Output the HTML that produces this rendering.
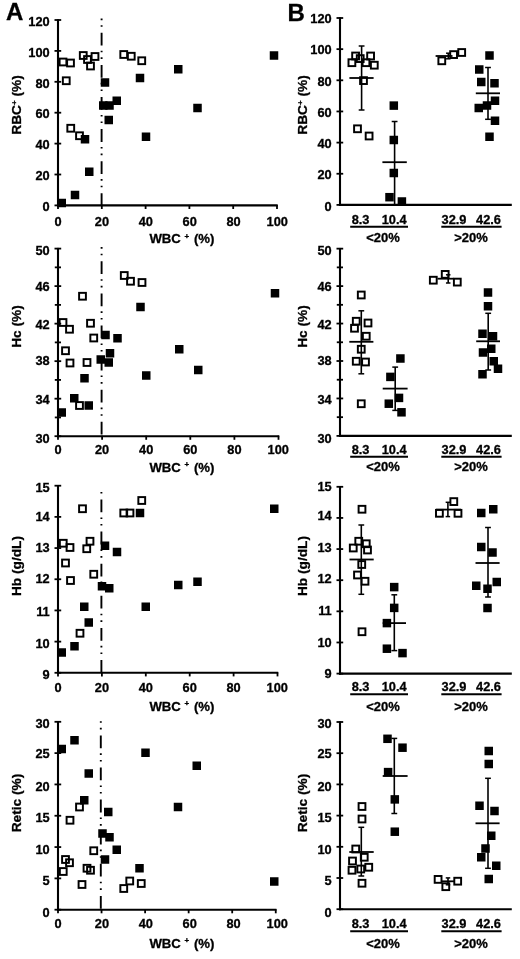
<!DOCTYPE html>
<html><head><meta charset="utf-8"><title>Figure</title>
<style>
html,body{margin:0;padding:0;background:#fff;}
svg{display:block;filter:grayscale(1) blur(0.3px);}
svg text{font-family:"Liberation Sans", sans-serif;font-weight:bold;fill:#000;stroke:#000;stroke-width:0.3px;}
</style></head>
<body>
<svg width="520" height="959" viewBox="0 0 520 959">
<rect width="520" height="959" fill="#fff"/>
<line x1="58.00" y1="19.30" x2="58.00" y2="206.45" stroke="#000" stroke-width="2.1"/>
<line x1="54.50" y1="20.00" x2="61.20" y2="20.00" stroke="#000" stroke-width="1.8"/>
<text x="49.70" y="25.70" font-size="12.8" text-anchor="end" >120</text>
<line x1="54.50" y1="50.90" x2="61.20" y2="50.90" stroke="#000" stroke-width="1.8"/>
<text x="49.70" y="56.60" font-size="12.8" text-anchor="end" >100</text>
<line x1="54.50" y1="81.80" x2="61.20" y2="81.80" stroke="#000" stroke-width="1.8"/>
<text x="49.70" y="87.50" font-size="12.8" text-anchor="end" >80</text>
<line x1="54.50" y1="112.70" x2="61.20" y2="112.70" stroke="#000" stroke-width="1.8"/>
<text x="49.70" y="118.40" font-size="12.8" text-anchor="end" >60</text>
<line x1="54.50" y1="143.60" x2="61.20" y2="143.60" stroke="#000" stroke-width="1.8"/>
<text x="49.70" y="149.30" font-size="12.8" text-anchor="end" >40</text>
<line x1="54.50" y1="174.50" x2="61.20" y2="174.50" stroke="#000" stroke-width="1.8"/>
<text x="49.70" y="180.20" font-size="12.8" text-anchor="end" >20</text>
<line x1="54.50" y1="205.40" x2="61.20" y2="205.40" stroke="#000" stroke-width="1.8"/>
<text x="49.70" y="211.10" font-size="12.8" text-anchor="end" >0</text>
<line x1="56.95" y1="205.40" x2="277.70" y2="205.40" stroke="#000" stroke-width="2.1"/>
<line x1="58.00" y1="204.90" x2="58.00" y2="209.00" stroke="#000" stroke-width="1.8"/>
<text x="58.00" y="226.40" font-size="12.8" text-anchor="middle" >0</text>
<line x1="101.80" y1="204.90" x2="101.80" y2="209.00" stroke="#000" stroke-width="1.8"/>
<text x="101.90" y="226.40" font-size="12.8" text-anchor="middle" >20</text>
<line x1="145.60" y1="204.90" x2="145.60" y2="209.00" stroke="#000" stroke-width="1.8"/>
<text x="145.80" y="226.40" font-size="12.8" text-anchor="middle" >40</text>
<line x1="189.40" y1="204.90" x2="189.40" y2="209.00" stroke="#000" stroke-width="1.8"/>
<text x="189.70" y="226.40" font-size="12.8" text-anchor="middle" >60</text>
<line x1="233.20" y1="204.90" x2="233.20" y2="209.00" stroke="#000" stroke-width="1.8"/>
<text x="233.60" y="226.40" font-size="12.8" text-anchor="middle" >80</text>
<line x1="277.00" y1="204.90" x2="277.00" y2="209.00" stroke="#000" stroke-width="1.8"/>
<text x="277.20" y="226.40" font-size="12.8" text-anchor="middle" >100</text>
<text x="181.90" y="242.70" font-size="13.2" text-anchor="middle" >WBC <tspan font-size="8" dy="-4.2">+</tspan><tspan dy="4.2" dx="1.0"> (%)</tspan></text>
<text transform="translate(21.40,105.00) rotate(-90)" font-size="13.7" text-anchor="middle">RBC<tspan font-size="8" dy="-4.2">+</tspan><tspan dy="4.2"> (%)</tspan></text>
<path d="M101.6 206.10 V18.50" stroke="#000" stroke-width="1.9" fill="none" stroke-dasharray="12.8 6 1.6 5 1.6 5.1"/>
<rect x="59.60" y="58.60" width="6.8" height="6.8" fill="none" stroke="#000" stroke-width="1.95"/>
<rect x="67.10" y="59.60" width="6.8" height="6.8" fill="none" stroke="#000" stroke-width="1.95"/>
<rect x="62.85" y="77.35" width="6.8" height="6.8" fill="none" stroke="#000" stroke-width="1.95"/>
<rect x="79.85" y="52.10" width="6.8" height="6.8" fill="none" stroke="#000" stroke-width="1.95"/>
<rect x="84.10" y="56.10" width="6.8" height="6.8" fill="none" stroke="#000" stroke-width="1.95"/>
<rect x="87.10" y="62.60" width="6.8" height="6.8" fill="none" stroke="#000" stroke-width="1.95"/>
<rect x="91.60" y="53.10" width="6.8" height="6.8" fill="none" stroke="#000" stroke-width="1.95"/>
<rect x="120.35" y="51.10" width="6.8" height="6.8" fill="none" stroke="#000" stroke-width="1.95"/>
<rect x="127.85" y="52.85" width="6.8" height="6.8" fill="none" stroke="#000" stroke-width="1.95"/>
<rect x="138.35" y="57.35" width="6.8" height="6.8" fill="none" stroke="#000" stroke-width="1.95"/>
<rect x="67.35" y="124.85" width="6.8" height="6.8" fill="none" stroke="#000" stroke-width="1.95"/>
<rect x="76.10" y="132.35" width="6.8" height="6.8" fill="none" stroke="#000" stroke-width="1.95"/>
<rect x="80.75" y="135.00" width="8.5" height="8.5" fill="#000"/>
<rect x="100.75" y="78.25" width="8.5" height="8.5" fill="#000"/>
<rect x="99.00" y="101.25" width="8.5" height="8.5" fill="#000"/>
<rect x="105.25" y="101.25" width="8.5" height="8.5" fill="#000"/>
<rect x="112.50" y="96.50" width="8.5" height="8.5" fill="#000"/>
<rect x="104.50" y="115.75" width="8.5" height="8.5" fill="#000"/>
<rect x="85.00" y="167.50" width="8.5" height="8.5" fill="#000"/>
<rect x="70.75" y="190.75" width="8.5" height="8.5" fill="#000"/>
<rect x="57.50" y="198.75" width="8.5" height="8.5" fill="#000"/>
<rect x="269.75" y="51.25" width="8.5" height="8.5" fill="#000"/>
<rect x="174.00" y="65.00" width="8.5" height="8.5" fill="#000"/>
<rect x="135.75" y="73.75" width="8.5" height="8.5" fill="#000"/>
<rect x="193.25" y="103.75" width="8.5" height="8.5" fill="#000"/>
<rect x="141.75" y="132.50" width="8.5" height="8.5" fill="#000"/>
<line x1="58.00" y1="247.90" x2="58.00" y2="437.25" stroke="#000" stroke-width="2.1"/>
<line x1="54.50" y1="248.60" x2="61.20" y2="248.60" stroke="#000" stroke-width="1.8"/>
<text x="49.70" y="255.10" font-size="12.8" text-anchor="end" >50</text>
<line x1="54.50" y1="286.12" x2="61.20" y2="286.12" stroke="#000" stroke-width="1.8"/>
<text x="49.70" y="291.10" font-size="12.8" text-anchor="end" >46</text>
<line x1="54.50" y1="323.64" x2="61.20" y2="323.64" stroke="#000" stroke-width="1.8"/>
<text x="49.70" y="328.60" font-size="12.8" text-anchor="end" >42</text>
<line x1="54.50" y1="361.16" x2="61.20" y2="361.16" stroke="#000" stroke-width="1.8"/>
<text x="49.70" y="364.50" font-size="12.8" text-anchor="end" >38</text>
<line x1="54.50" y1="398.68" x2="61.20" y2="398.68" stroke="#000" stroke-width="1.8"/>
<text x="49.70" y="404.10" font-size="12.8" text-anchor="end" >34</text>
<line x1="54.50" y1="436.20" x2="61.20" y2="436.20" stroke="#000" stroke-width="1.8"/>
<text x="49.70" y="442.70" font-size="12.8" text-anchor="end" >30</text>
<line x1="54.80" y1="267.36" x2="61.00" y2="267.36" stroke="#000" stroke-width="1.8"/>
<line x1="54.80" y1="304.88" x2="61.00" y2="304.88" stroke="#000" stroke-width="1.8"/>
<line x1="54.80" y1="342.40" x2="61.00" y2="342.40" stroke="#000" stroke-width="1.8"/>
<line x1="54.80" y1="379.92" x2="61.00" y2="379.92" stroke="#000" stroke-width="1.8"/>
<line x1="54.80" y1="417.44" x2="61.00" y2="417.44" stroke="#000" stroke-width="1.8"/>
<line x1="56.95" y1="436.20" x2="279.20" y2="436.20" stroke="#000" stroke-width="2.1"/>
<line x1="58.00" y1="435.70" x2="58.00" y2="439.80" stroke="#000" stroke-width="1.8"/>
<text x="58.00" y="453.70" font-size="12.8" text-anchor="middle" >0</text>
<line x1="102.10" y1="435.70" x2="102.10" y2="439.80" stroke="#000" stroke-width="1.8"/>
<text x="102.10" y="453.70" font-size="12.8" text-anchor="middle" >20</text>
<line x1="146.20" y1="435.70" x2="146.20" y2="439.80" stroke="#000" stroke-width="1.8"/>
<text x="146.20" y="453.70" font-size="12.8" text-anchor="middle" >40</text>
<line x1="190.30" y1="435.70" x2="190.30" y2="439.80" stroke="#000" stroke-width="1.8"/>
<text x="190.30" y="453.70" font-size="12.8" text-anchor="middle" >60</text>
<line x1="234.40" y1="435.70" x2="234.40" y2="439.80" stroke="#000" stroke-width="1.8"/>
<text x="234.40" y="453.70" font-size="12.8" text-anchor="middle" >80</text>
<line x1="278.50" y1="435.70" x2="278.50" y2="439.80" stroke="#000" stroke-width="1.8"/>
<text x="278.20" y="453.70" font-size="12.8" text-anchor="middle" >100</text>
<text x="181.90" y="471.60" font-size="13.2" text-anchor="middle" >WBC <tspan font-size="8" dy="-4.2">+</tspan><tspan dy="4.2" dx="1.0"> (%)</tspan></text>
<text transform="translate(21.40,326.50) rotate(-90)" font-size="13.7" text-anchor="middle">Hc (%)</text>
<path d="M101.6 434.60 V247.10" stroke="#000" stroke-width="1.9" fill="none" stroke-dasharray="12.8 6 1.6 5 1.6 5.1"/>
<rect x="120.85" y="272.10" width="6.8" height="6.8" fill="none" stroke="#000" stroke-width="1.95"/>
<rect x="127.10" y="277.85" width="6.8" height="6.8" fill="none" stroke="#000" stroke-width="1.95"/>
<rect x="138.60" y="279.10" width="6.8" height="6.8" fill="none" stroke="#000" stroke-width="1.95"/>
<rect x="79.10" y="292.85" width="6.8" height="6.8" fill="none" stroke="#000" stroke-width="1.95"/>
<rect x="59.60" y="319.10" width="6.8" height="6.8" fill="none" stroke="#000" stroke-width="1.95"/>
<rect x="66.10" y="325.85" width="6.8" height="6.8" fill="none" stroke="#000" stroke-width="1.95"/>
<rect x="87.10" y="319.85" width="6.8" height="6.8" fill="none" stroke="#000" stroke-width="1.95"/>
<rect x="90.35" y="334.60" width="6.8" height="6.8" fill="none" stroke="#000" stroke-width="1.95"/>
<rect x="62.10" y="347.35" width="6.8" height="6.8" fill="none" stroke="#000" stroke-width="1.95"/>
<rect x="66.60" y="359.60" width="6.8" height="6.8" fill="none" stroke="#000" stroke-width="1.95"/>
<rect x="83.60" y="359.10" width="6.8" height="6.8" fill="none" stroke="#000" stroke-width="1.95"/>
<rect x="76.10" y="402.10" width="6.8" height="6.8" fill="none" stroke="#000" stroke-width="1.95"/>
<rect x="101.25" y="330.75" width="8.5" height="8.5" fill="#000"/>
<rect x="113.25" y="334.00" width="8.5" height="8.5" fill="#000"/>
<rect x="105.75" y="349.00" width="8.5" height="8.5" fill="#000"/>
<rect x="96.50" y="355.25" width="8.5" height="8.5" fill="#000"/>
<rect x="104.50" y="358.25" width="8.5" height="8.5" fill="#000"/>
<rect x="80.25" y="374.00" width="8.5" height="8.5" fill="#000"/>
<rect x="70.00" y="394.00" width="8.5" height="8.5" fill="#000"/>
<rect x="84.50" y="401.25" width="8.5" height="8.5" fill="#000"/>
<rect x="57.50" y="408.25" width="8.5" height="8.5" fill="#000"/>
<rect x="136.25" y="302.75" width="8.5" height="8.5" fill="#000"/>
<rect x="175.00" y="345.00" width="8.5" height="8.5" fill="#000"/>
<rect x="194.00" y="365.75" width="8.5" height="8.5" fill="#000"/>
<rect x="142.00" y="371.25" width="8.5" height="8.5" fill="#000"/>
<rect x="270.75" y="289.00" width="8.5" height="8.5" fill="#000"/>
<line x1="58.00" y1="485.00" x2="58.00" y2="673.85" stroke="#000" stroke-width="2.1"/>
<line x1="54.50" y1="485.70" x2="61.20" y2="485.70" stroke="#000" stroke-width="1.8"/>
<text x="49.70" y="491.70" font-size="12.8" text-anchor="end" >15</text>
<line x1="54.50" y1="516.88" x2="61.20" y2="516.88" stroke="#000" stroke-width="1.8"/>
<text x="49.70" y="521.00" font-size="12.8" text-anchor="end" >14</text>
<line x1="54.50" y1="548.07" x2="61.20" y2="548.07" stroke="#000" stroke-width="1.8"/>
<text x="49.70" y="552.30" font-size="12.8" text-anchor="end" >13</text>
<line x1="54.50" y1="579.25" x2="61.20" y2="579.25" stroke="#000" stroke-width="1.8"/>
<text x="49.70" y="583.20" font-size="12.8" text-anchor="end" >12</text>
<line x1="54.50" y1="610.43" x2="61.20" y2="610.43" stroke="#000" stroke-width="1.8"/>
<text x="49.70" y="615.70" font-size="12.8" text-anchor="end" >11</text>
<line x1="54.50" y1="641.62" x2="61.20" y2="641.62" stroke="#000" stroke-width="1.8"/>
<text x="49.70" y="647.70" font-size="12.8" text-anchor="end" >10</text>
<line x1="54.50" y1="672.80" x2="61.20" y2="672.80" stroke="#000" stroke-width="1.8"/>
<text x="49.70" y="679.10" font-size="12.8" text-anchor="end" >9</text>
<line x1="56.95" y1="672.80" x2="278.20" y2="672.80" stroke="#000" stroke-width="2.1"/>
<line x1="58.00" y1="672.30" x2="58.00" y2="676.40" stroke="#000" stroke-width="1.8"/>
<text x="58.00" y="691.70" font-size="12.8" text-anchor="middle" >0</text>
<line x1="101.90" y1="672.30" x2="101.90" y2="676.40" stroke="#000" stroke-width="1.8"/>
<text x="101.90" y="691.70" font-size="12.8" text-anchor="middle" >20</text>
<line x1="145.80" y1="672.30" x2="145.80" y2="676.40" stroke="#000" stroke-width="1.8"/>
<text x="145.80" y="691.70" font-size="12.8" text-anchor="middle" >40</text>
<line x1="189.70" y1="672.30" x2="189.70" y2="676.40" stroke="#000" stroke-width="1.8"/>
<text x="189.70" y="691.70" font-size="12.8" text-anchor="middle" >60</text>
<line x1="233.60" y1="672.30" x2="233.60" y2="676.40" stroke="#000" stroke-width="1.8"/>
<text x="233.60" y="691.70" font-size="12.8" text-anchor="middle" >80</text>
<line x1="277.50" y1="672.30" x2="277.50" y2="676.40" stroke="#000" stroke-width="1.8"/>
<text x="277.20" y="691.70" font-size="12.8" text-anchor="middle" >100</text>
<text x="181.90" y="710.60" font-size="13.2" text-anchor="middle" >WBC <tspan font-size="8" dy="-4.2">+</tspan><tspan dy="4.2" dx="1.0"> (%)</tspan></text>
<text transform="translate(21.40,566.00) rotate(-90)" font-size="13.7" text-anchor="middle">Hb (g/dL)</text>
<path d="M101.4 672.80 V490.50" stroke="#000" stroke-width="1.9" fill="none" stroke-dasharray="12.8 6 1.6 5 1.6 5.1"/>
<rect x="79.10" y="505.35" width="6.8" height="6.8" fill="none" stroke="#000" stroke-width="1.95"/>
<rect x="120.35" y="509.60" width="6.8" height="6.8" fill="none" stroke="#000" stroke-width="1.95"/>
<rect x="126.60" y="509.60" width="6.8" height="6.8" fill="none" stroke="#000" stroke-width="1.95"/>
<rect x="138.35" y="497.10" width="6.8" height="6.8" fill="none" stroke="#000" stroke-width="1.95"/>
<rect x="59.85" y="539.85" width="6.8" height="6.8" fill="none" stroke="#000" stroke-width="1.95"/>
<rect x="66.60" y="544.10" width="6.8" height="6.8" fill="none" stroke="#000" stroke-width="1.95"/>
<rect x="86.60" y="537.85" width="6.8" height="6.8" fill="none" stroke="#000" stroke-width="1.95"/>
<rect x="83.35" y="545.35" width="6.8" height="6.8" fill="none" stroke="#000" stroke-width="1.95"/>
<rect x="62.10" y="559.60" width="6.8" height="6.8" fill="none" stroke="#000" stroke-width="1.95"/>
<rect x="90.35" y="570.85" width="6.8" height="6.8" fill="none" stroke="#000" stroke-width="1.95"/>
<rect x="67.10" y="577.10" width="6.8" height="6.8" fill="none" stroke="#000" stroke-width="1.95"/>
<rect x="76.60" y="629.85" width="6.8" height="6.8" fill="none" stroke="#000" stroke-width="1.95"/>
<rect x="100.75" y="541.50" width="8.5" height="8.5" fill="#000"/>
<rect x="112.75" y="547.75" width="8.5" height="8.5" fill="#000"/>
<rect x="97.75" y="582.00" width="8.5" height="8.5" fill="#000"/>
<rect x="105.00" y="584.00" width="8.5" height="8.5" fill="#000"/>
<rect x="80.00" y="602.50" width="8.5" height="8.5" fill="#000"/>
<rect x="84.50" y="618.25" width="8.5" height="8.5" fill="#000"/>
<rect x="70.25" y="642.00" width="8.5" height="8.5" fill="#000"/>
<rect x="57.50" y="648.25" width="8.5" height="8.5" fill="#000"/>
<rect x="135.75" y="508.75" width="8.5" height="8.5" fill="#000"/>
<rect x="174.00" y="580.75" width="8.5" height="8.5" fill="#000"/>
<rect x="193.25" y="577.50" width="8.5" height="8.5" fill="#000"/>
<rect x="141.50" y="602.50" width="8.5" height="8.5" fill="#000"/>
<rect x="270.00" y="504.50" width="8.5" height="8.5" fill="#000"/>
<line x1="58.00" y1="721.10" x2="58.00" y2="910.75" stroke="#000" stroke-width="2.1"/>
<line x1="54.50" y1="721.80" x2="61.20" y2="721.80" stroke="#000" stroke-width="1.8"/>
<text x="49.70" y="727.90" font-size="12.8" text-anchor="end" >30</text>
<line x1="54.50" y1="753.12" x2="61.20" y2="753.12" stroke="#000" stroke-width="1.8"/>
<text x="49.70" y="758.00" font-size="12.8" text-anchor="end" >25</text>
<line x1="54.50" y1="784.43" x2="61.20" y2="784.43" stroke="#000" stroke-width="1.8"/>
<text x="49.70" y="790.60" font-size="12.8" text-anchor="end" >20</text>
<line x1="54.50" y1="815.75" x2="61.20" y2="815.75" stroke="#000" stroke-width="1.8"/>
<text x="49.70" y="822.00" font-size="12.8" text-anchor="end" >15</text>
<line x1="54.50" y1="847.07" x2="61.20" y2="847.07" stroke="#000" stroke-width="1.8"/>
<text x="49.70" y="853.70" font-size="12.8" text-anchor="end" >10</text>
<line x1="54.50" y1="878.38" x2="61.20" y2="878.38" stroke="#000" stroke-width="1.8"/>
<text x="49.70" y="884.70" font-size="12.8" text-anchor="end" >5</text>
<line x1="54.50" y1="909.70" x2="61.20" y2="909.70" stroke="#000" stroke-width="1.8"/>
<text x="49.70" y="916.50" font-size="12.8" text-anchor="end" >0</text>
<line x1="56.95" y1="909.70" x2="276.45" y2="909.70" stroke="#000" stroke-width="2.1"/>
<line x1="58.00" y1="909.20" x2="58.00" y2="913.30" stroke="#000" stroke-width="1.8"/>
<text x="58.00" y="928.40" font-size="12.8" text-anchor="middle" >0</text>
<line x1="101.55" y1="909.20" x2="101.55" y2="913.30" stroke="#000" stroke-width="1.8"/>
<text x="101.90" y="928.40" font-size="12.8" text-anchor="middle" >20</text>
<line x1="145.10" y1="909.20" x2="145.10" y2="913.30" stroke="#000" stroke-width="1.8"/>
<text x="145.80" y="928.40" font-size="12.8" text-anchor="middle" >40</text>
<line x1="188.65" y1="909.20" x2="188.65" y2="913.30" stroke="#000" stroke-width="1.8"/>
<text x="189.70" y="928.40" font-size="12.8" text-anchor="middle" >60</text>
<line x1="232.20" y1="909.20" x2="232.20" y2="913.30" stroke="#000" stroke-width="1.8"/>
<text x="233.60" y="928.40" font-size="12.8" text-anchor="middle" >80</text>
<line x1="275.75" y1="909.20" x2="275.75" y2="913.30" stroke="#000" stroke-width="1.8"/>
<text x="277.20" y="928.40" font-size="12.8" text-anchor="middle" >100</text>
<text x="181.90" y="947.60" font-size="13.2" text-anchor="middle" >WBC <tspan font-size="8" dy="-4.2">+</tspan><tspan dy="4.2" dx="1.0"> (%)</tspan></text>
<text transform="translate(21.40,803.00) rotate(-90)" font-size="13.7" text-anchor="middle">Retic (%)</text>
<path d="M100.8 908.70 V720.30" stroke="#000" stroke-width="1.9" fill="none" stroke-dasharray="12.8 6 1.6 5 1.6 5.1"/>
<rect x="76.10" y="803.60" width="6.8" height="6.8" fill="none" stroke="#000" stroke-width="1.95"/>
<rect x="66.60" y="816.85" width="6.8" height="6.8" fill="none" stroke="#000" stroke-width="1.95"/>
<rect x="90.35" y="847.35" width="6.8" height="6.8" fill="none" stroke="#000" stroke-width="1.95"/>
<rect x="62.10" y="856.10" width="6.8" height="6.8" fill="none" stroke="#000" stroke-width="1.95"/>
<rect x="66.10" y="859.35" width="6.8" height="6.8" fill="none" stroke="#000" stroke-width="1.95"/>
<rect x="59.85" y="868.10" width="6.8" height="6.8" fill="none" stroke="#000" stroke-width="1.95"/>
<rect x="83.60" y="864.85" width="6.8" height="6.8" fill="none" stroke="#000" stroke-width="1.95"/>
<rect x="87.10" y="866.85" width="6.8" height="6.8" fill="none" stroke="#000" stroke-width="1.95"/>
<rect x="78.60" y="881.10" width="6.8" height="6.8" fill="none" stroke="#000" stroke-width="1.95"/>
<rect x="120.35" y="885.10" width="6.8" height="6.8" fill="none" stroke="#000" stroke-width="1.95"/>
<rect x="126.35" y="877.60" width="6.8" height="6.8" fill="none" stroke="#000" stroke-width="1.95"/>
<rect x="137.85" y="880.10" width="6.8" height="6.8" fill="none" stroke="#000" stroke-width="1.95"/>
<rect x="57.50" y="744.75" width="8.5" height="8.5" fill="#000"/>
<rect x="70.25" y="736.00" width="8.5" height="8.5" fill="#000"/>
<rect x="84.50" y="769.25" width="8.5" height="8.5" fill="#000"/>
<rect x="80.00" y="796.00" width="8.5" height="8.5" fill="#000"/>
<rect x="104.00" y="807.75" width="8.5" height="8.5" fill="#000"/>
<rect x="98.25" y="829.25" width="8.5" height="8.5" fill="#000"/>
<rect x="105.25" y="833.00" width="8.5" height="8.5" fill="#000"/>
<rect x="112.50" y="845.50" width="8.5" height="8.5" fill="#000"/>
<rect x="100.75" y="855.25" width="8.5" height="8.5" fill="#000"/>
<rect x="141.25" y="748.50" width="8.5" height="8.5" fill="#000"/>
<rect x="192.50" y="761.50" width="8.5" height="8.5" fill="#000"/>
<rect x="173.75" y="802.75" width="8.5" height="8.5" fill="#000"/>
<rect x="135.25" y="864.00" width="8.5" height="8.5" fill="#000"/>
<rect x="270.00" y="877.25" width="8.5" height="8.5" fill="#000"/>
<line x1="340.00" y1="17.30" x2="340.00" y2="205.95" stroke="#000" stroke-width="2.1"/>
<line x1="336.50" y1="18.00" x2="343.20" y2="18.00" stroke="#000" stroke-width="1.8"/>
<text x="331.70" y="23.20" font-size="12.8" text-anchor="end" >120</text>
<line x1="336.50" y1="49.15" x2="343.20" y2="49.15" stroke="#000" stroke-width="1.8"/>
<text x="331.70" y="54.40" font-size="12.8" text-anchor="end" >100</text>
<line x1="336.50" y1="80.30" x2="343.20" y2="80.30" stroke="#000" stroke-width="1.8"/>
<text x="331.70" y="85.60" font-size="12.8" text-anchor="end" >80</text>
<line x1="336.50" y1="111.45" x2="343.20" y2="111.45" stroke="#000" stroke-width="1.8"/>
<text x="331.70" y="116.90" font-size="12.8" text-anchor="end" >60</text>
<line x1="336.50" y1="142.60" x2="343.20" y2="142.60" stroke="#000" stroke-width="1.8"/>
<text x="331.70" y="148.10" font-size="12.8" text-anchor="end" >40</text>
<line x1="336.50" y1="173.75" x2="343.20" y2="173.75" stroke="#000" stroke-width="1.8"/>
<text x="331.70" y="179.30" font-size="12.8" text-anchor="end" >20</text>
<line x1="336.50" y1="204.90" x2="343.20" y2="204.90" stroke="#000" stroke-width="1.8"/>
<text x="331.70" y="210.50" font-size="12.8" text-anchor="end" >0</text>
<line x1="338.95" y1="204.90" x2="511.80" y2="204.90" stroke="#000" stroke-width="2.1"/>
<text transform="translate(306.90,105.00) rotate(-90)" font-size="13.7" text-anchor="middle">RBC<tspan font-size="8" dy="-4.2">+</tspan><tspan dy="4.2"> (%)</tspan></text>
<text x="360.60" y="223.70" font-size="12.8" text-anchor="middle" >8.3</text>
<text x="394.20" y="223.70" font-size="12.8" text-anchor="middle" >10.4</text>
<text x="454.00" y="223.70" font-size="12.8" text-anchor="middle" >32.9</text>
<text x="488.50" y="223.70" font-size="12.8" text-anchor="middle" >42.6</text>
<line x1="350.20" y1="226.80" x2="408.00" y2="226.80" stroke="#000" stroke-width="1.9"/>
<line x1="441.30" y1="226.80" x2="501.60" y2="226.80" stroke="#000" stroke-width="1.9"/>
<text x="383.00" y="242.20" font-size="13" text-anchor="middle" >&lt;20%</text>
<text x="471.00" y="242.20" font-size="13" text-anchor="middle" >&gt;20%</text>
<rect x="348.50" y="59.30" width="6.8" height="6.8" fill="none" stroke="#000" stroke-width="1.95"/>
<rect x="352.20" y="52.60" width="6.8" height="6.8" fill="none" stroke="#000" stroke-width="1.95"/>
<rect x="356.80" y="55.20" width="6.8" height="6.8" fill="none" stroke="#000" stroke-width="1.95"/>
<rect x="362.60" y="59.30" width="6.8" height="6.8" fill="none" stroke="#000" stroke-width="1.95"/>
<rect x="367.20" y="52.60" width="6.8" height="6.8" fill="none" stroke="#000" stroke-width="1.95"/>
<rect x="370.90" y="61.80" width="6.8" height="6.8" fill="none" stroke="#000" stroke-width="1.95"/>
<rect x="360.10" y="77.20" width="6.8" height="6.8" fill="none" stroke="#000" stroke-width="1.95"/>
<rect x="354.10" y="125.40" width="6.8" height="6.8" fill="none" stroke="#000" stroke-width="1.95"/>
<rect x="365.70" y="132.60" width="6.8" height="6.8" fill="none" stroke="#000" stroke-width="1.95"/>
<rect x="438.40" y="57.40" width="6.8" height="6.8" fill="none" stroke="#000" stroke-width="1.95"/>
<rect x="450.20" y="51.20" width="6.8" height="6.8" fill="none" stroke="#000" stroke-width="1.95"/>
<rect x="458.30" y="49.10" width="6.8" height="6.8" fill="none" stroke="#000" stroke-width="1.95"/>
<rect x="389.55" y="101.35" width="8.5" height="8.5" fill="#000"/>
<rect x="389.55" y="135.75" width="8.5" height="8.5" fill="#000"/>
<rect x="389.55" y="168.75" width="8.5" height="8.5" fill="#000"/>
<rect x="385.25" y="192.95" width="8.5" height="8.5" fill="#000"/>
<rect x="397.65" y="197.25" width="8.5" height="8.5" fill="#000"/>
<rect x="485.25" y="51.25" width="8.5" height="8.5" fill="#000"/>
<rect x="475.00" y="65.25" width="8.5" height="8.5" fill="#000"/>
<rect x="477.00" y="77.75" width="8.5" height="8.5" fill="#000"/>
<rect x="490.25" y="79.00" width="8.5" height="8.5" fill="#000"/>
<rect x="490.75" y="96.50" width="8.5" height="8.5" fill="#000"/>
<rect x="474.50" y="103.75" width="8.5" height="8.5" fill="#000"/>
<rect x="482.75" y="101.25" width="8.5" height="8.5" fill="#000"/>
<rect x="490.75" y="116.50" width="8.5" height="8.5" fill="#000"/>
<rect x="485.25" y="132.50" width="8.5" height="8.5" fill="#000"/>
<line x1="361.60" y1="46.00" x2="361.60" y2="110.00" stroke="#000" stroke-width="1.6"/>
<line x1="358.70" y1="46.00" x2="364.50" y2="46.00" stroke="#000" stroke-width="1.5"/>
<line x1="358.70" y1="110.00" x2="364.50" y2="110.00" stroke="#000" stroke-width="1.5"/>
<line x1="349.40" y1="78.00" x2="373.60" y2="78.00" stroke="#000" stroke-width="1.8"/>
<line x1="394.60" y1="121.50" x2="394.60" y2="204.90" stroke="#000" stroke-width="1.6"/>
<line x1="391.70" y1="121.50" x2="397.50" y2="121.50" stroke="#000" stroke-width="1.5"/>
<line x1="382.40" y1="162.20" x2="406.80" y2="162.20" stroke="#000" stroke-width="1.8"/>
<line x1="448.30" y1="53.20" x2="448.30" y2="58.80" stroke="#000" stroke-width="1.6"/>
<line x1="446.05" y1="53.20" x2="450.55" y2="53.20" stroke="#000" stroke-width="1.5"/>
<line x1="446.05" y1="58.80" x2="450.55" y2="58.80" stroke="#000" stroke-width="1.5"/>
<line x1="435.60" y1="56.00" x2="452.50" y2="56.00" stroke="#000" stroke-width="1.8"/>
<line x1="488.00" y1="67.50" x2="488.00" y2="119.30" stroke="#000" stroke-width="1.6"/>
<line x1="485.10" y1="67.50" x2="490.90" y2="67.50" stroke="#000" stroke-width="1.5"/>
<line x1="485.10" y1="119.30" x2="490.90" y2="119.30" stroke="#000" stroke-width="1.5"/>
<line x1="475.80" y1="93.30" x2="500.00" y2="93.30" stroke="#000" stroke-width="1.8"/>
<line x1="340.00" y1="247.95" x2="340.00" y2="436.95" stroke="#000" stroke-width="2.1"/>
<line x1="336.50" y1="248.65" x2="343.20" y2="248.65" stroke="#000" stroke-width="1.8"/>
<text x="331.70" y="255.10" font-size="12.8" text-anchor="end" >50</text>
<line x1="336.50" y1="286.10" x2="343.20" y2="286.10" stroke="#000" stroke-width="1.8"/>
<text x="331.70" y="291.10" font-size="12.8" text-anchor="end" >46</text>
<line x1="336.50" y1="323.55" x2="343.20" y2="323.55" stroke="#000" stroke-width="1.8"/>
<text x="331.70" y="328.70" font-size="12.8" text-anchor="end" >42</text>
<line x1="336.50" y1="361.00" x2="343.20" y2="361.00" stroke="#000" stroke-width="1.8"/>
<text x="331.70" y="364.50" font-size="12.8" text-anchor="end" >38</text>
<line x1="336.50" y1="398.45" x2="343.20" y2="398.45" stroke="#000" stroke-width="1.8"/>
<text x="331.70" y="404.10" font-size="12.8" text-anchor="end" >34</text>
<line x1="336.50" y1="435.90" x2="343.20" y2="435.90" stroke="#000" stroke-width="1.8"/>
<text x="331.70" y="442.70" font-size="12.8" text-anchor="end" >30</text>
<line x1="336.80" y1="267.38" x2="343.00" y2="267.38" stroke="#000" stroke-width="1.8"/>
<line x1="336.80" y1="304.82" x2="343.00" y2="304.82" stroke="#000" stroke-width="1.8"/>
<line x1="336.80" y1="342.27" x2="343.00" y2="342.27" stroke="#000" stroke-width="1.8"/>
<line x1="336.80" y1="379.73" x2="343.00" y2="379.73" stroke="#000" stroke-width="1.8"/>
<line x1="336.80" y1="417.17" x2="343.00" y2="417.17" stroke="#000" stroke-width="1.8"/>
<line x1="338.95" y1="435.90" x2="511.80" y2="435.90" stroke="#000" stroke-width="2.1"/>
<text transform="translate(306.90,326.50) rotate(-90)" font-size="13.7" text-anchor="middle">Hc (%)</text>
<text x="360.60" y="454.10" font-size="12.8" text-anchor="middle" >8.3</text>
<text x="394.20" y="454.10" font-size="12.8" text-anchor="middle" >10.4</text>
<text x="454.00" y="454.10" font-size="12.8" text-anchor="middle" >32.9</text>
<text x="488.50" y="454.10" font-size="12.8" text-anchor="middle" >42.6</text>
<line x1="350.20" y1="456.70" x2="408.00" y2="456.70" stroke="#000" stroke-width="1.9"/>
<line x1="441.30" y1="456.70" x2="501.60" y2="456.70" stroke="#000" stroke-width="1.9"/>
<text x="383.00" y="470.60" font-size="13" text-anchor="middle" >&lt;20%</text>
<text x="471.00" y="470.60" font-size="13" text-anchor="middle" >&gt;20%</text>
<rect x="357.85" y="291.60" width="6.8" height="6.8" fill="none" stroke="#000" stroke-width="1.95"/>
<rect x="352.85" y="317.85" width="6.8" height="6.8" fill="none" stroke="#000" stroke-width="1.95"/>
<rect x="364.60" y="319.60" width="6.8" height="6.8" fill="none" stroke="#000" stroke-width="1.95"/>
<rect x="351.10" y="324.85" width="6.8" height="6.8" fill="none" stroke="#000" stroke-width="1.95"/>
<rect x="362.85" y="332.85" width="6.8" height="6.8" fill="none" stroke="#000" stroke-width="1.95"/>
<rect x="357.85" y="345.85" width="6.8" height="6.8" fill="none" stroke="#000" stroke-width="1.95"/>
<rect x="352.85" y="357.85" width="6.8" height="6.8" fill="none" stroke="#000" stroke-width="1.95"/>
<rect x="362.10" y="358.60" width="6.8" height="6.8" fill="none" stroke="#000" stroke-width="1.95"/>
<rect x="357.85" y="400.35" width="6.8" height="6.8" fill="none" stroke="#000" stroke-width="1.95"/>
<rect x="429.90" y="276.80" width="6.8" height="6.8" fill="none" stroke="#000" stroke-width="1.95"/>
<rect x="441.80" y="271.00" width="6.8" height="6.8" fill="none" stroke="#000" stroke-width="1.95"/>
<rect x="453.90" y="278.70" width="6.8" height="6.8" fill="none" stroke="#000" stroke-width="1.95"/>
<rect x="396.15" y="354.25" width="8.5" height="8.5" fill="#000"/>
<rect x="386.15" y="372.65" width="8.5" height="8.5" fill="#000"/>
<rect x="394.75" y="393.65" width="8.5" height="8.5" fill="#000"/>
<rect x="384.55" y="399.45" width="8.5" height="8.5" fill="#000"/>
<rect x="397.25" y="408.05" width="8.5" height="8.5" fill="#000"/>
<rect x="483.75" y="288.25" width="8.5" height="8.5" fill="#000"/>
<rect x="483.75" y="302.00" width="8.5" height="8.5" fill="#000"/>
<rect x="478.25" y="329.50" width="8.5" height="8.5" fill="#000"/>
<rect x="488.75" y="332.00" width="8.5" height="8.5" fill="#000"/>
<rect x="487.00" y="344.50" width="8.5" height="8.5" fill="#000"/>
<rect x="478.75" y="348.25" width="8.5" height="8.5" fill="#000"/>
<rect x="489.50" y="357.00" width="8.5" height="8.5" fill="#000"/>
<rect x="493.75" y="364.50" width="8.5" height="8.5" fill="#000"/>
<rect x="478.25" y="370.00" width="8.5" height="8.5" fill="#000"/>
<line x1="361.30" y1="310.80" x2="361.30" y2="373.80" stroke="#000" stroke-width="1.6"/>
<line x1="358.40" y1="310.80" x2="364.20" y2="310.80" stroke="#000" stroke-width="1.5"/>
<line x1="358.40" y1="373.80" x2="364.20" y2="373.80" stroke="#000" stroke-width="1.5"/>
<line x1="349.30" y1="341.80" x2="373.40" y2="341.80" stroke="#000" stroke-width="1.8"/>
<line x1="395.20" y1="367.10" x2="395.20" y2="410.40" stroke="#000" stroke-width="1.6"/>
<line x1="392.30" y1="367.10" x2="398.10" y2="367.10" stroke="#000" stroke-width="1.5"/>
<line x1="392.30" y1="410.40" x2="398.10" y2="410.40" stroke="#000" stroke-width="1.5"/>
<line x1="382.70" y1="388.60" x2="407.60" y2="388.60" stroke="#000" stroke-width="1.8"/>
<line x1="448.20" y1="274.80" x2="448.20" y2="283.00" stroke="#000" stroke-width="1.6"/>
<line x1="445.95" y1="274.80" x2="450.45" y2="274.80" stroke="#000" stroke-width="1.5"/>
<line x1="445.95" y1="283.00" x2="450.45" y2="283.00" stroke="#000" stroke-width="1.5"/>
<line x1="437.50" y1="278.70" x2="453.50" y2="278.70" stroke="#000" stroke-width="1.8"/>
<line x1="488.20" y1="313.30" x2="488.20" y2="370.00" stroke="#000" stroke-width="1.6"/>
<line x1="485.30" y1="313.30" x2="491.10" y2="313.30" stroke="#000" stroke-width="1.5"/>
<line x1="485.30" y1="370.00" x2="491.10" y2="370.00" stroke="#000" stroke-width="1.5"/>
<line x1="476.20" y1="341.30" x2="500.00" y2="341.30" stroke="#000" stroke-width="1.8"/>
<line x1="340.00" y1="486.10" x2="340.00" y2="674.65" stroke="#000" stroke-width="2.1"/>
<line x1="336.50" y1="486.80" x2="343.20" y2="486.80" stroke="#000" stroke-width="1.8"/>
<text x="331.70" y="490.80" font-size="12.8" text-anchor="end" >15</text>
<line x1="336.50" y1="517.93" x2="343.20" y2="517.93" stroke="#000" stroke-width="1.8"/>
<text x="331.70" y="520.20" font-size="12.8" text-anchor="end" >14</text>
<line x1="336.50" y1="549.07" x2="343.20" y2="549.07" stroke="#000" stroke-width="1.8"/>
<text x="331.70" y="551.60" font-size="12.8" text-anchor="end" >13</text>
<line x1="336.50" y1="580.20" x2="343.20" y2="580.20" stroke="#000" stroke-width="1.8"/>
<text x="331.70" y="582.70" font-size="12.8" text-anchor="end" >12</text>
<line x1="336.50" y1="611.33" x2="343.20" y2="611.33" stroke="#000" stroke-width="1.8"/>
<text x="331.70" y="615.30" font-size="12.8" text-anchor="end" >11</text>
<line x1="336.50" y1="642.47" x2="343.20" y2="642.47" stroke="#000" stroke-width="1.8"/>
<text x="331.70" y="646.90" font-size="12.8" text-anchor="end" >10</text>
<line x1="336.50" y1="673.60" x2="343.20" y2="673.60" stroke="#000" stroke-width="1.8"/>
<text x="331.70" y="678.40" font-size="12.8" text-anchor="end" >9</text>
<line x1="338.95" y1="673.60" x2="511.80" y2="673.60" stroke="#000" stroke-width="2.1"/>
<text transform="translate(306.90,566.00) rotate(-90)" font-size="13.7" text-anchor="middle">Hb (g/dL)</text>
<text x="360.60" y="690.60" font-size="12.8" text-anchor="middle" >8.3</text>
<text x="394.20" y="690.60" font-size="12.8" text-anchor="middle" >10.4</text>
<text x="454.00" y="690.60" font-size="12.8" text-anchor="middle" >32.9</text>
<text x="488.50" y="690.60" font-size="12.8" text-anchor="middle" >42.6</text>
<line x1="350.20" y1="694.20" x2="408.00" y2="694.20" stroke="#000" stroke-width="1.9"/>
<line x1="441.30" y1="694.20" x2="501.60" y2="694.20" stroke="#000" stroke-width="1.9"/>
<text x="383.00" y="710.60" font-size="13" text-anchor="middle" >&lt;20%</text>
<text x="471.00" y="710.60" font-size="13" text-anchor="middle" >&gt;20%</text>
<rect x="358.60" y="505.85" width="6.8" height="6.8" fill="none" stroke="#000" stroke-width="1.95"/>
<rect x="355.35" y="537.85" width="6.8" height="6.8" fill="none" stroke="#000" stroke-width="1.95"/>
<rect x="362.85" y="540.35" width="6.8" height="6.8" fill="none" stroke="#000" stroke-width="1.95"/>
<rect x="349.85" y="544.60" width="6.8" height="6.8" fill="none" stroke="#000" stroke-width="1.95"/>
<rect x="364.10" y="546.60" width="6.8" height="6.8" fill="none" stroke="#000" stroke-width="1.95"/>
<rect x="358.35" y="561.10" width="6.8" height="6.8" fill="none" stroke="#000" stroke-width="1.95"/>
<rect x="354.10" y="571.60" width="6.8" height="6.8" fill="none" stroke="#000" stroke-width="1.95"/>
<rect x="361.60" y="577.85" width="6.8" height="6.8" fill="none" stroke="#000" stroke-width="1.95"/>
<rect x="358.60" y="628.35" width="6.8" height="6.8" fill="none" stroke="#000" stroke-width="1.95"/>
<rect x="436.00" y="509.90" width="6.8" height="6.8" fill="none" stroke="#000" stroke-width="1.95"/>
<rect x="450.40" y="498.20" width="6.8" height="6.8" fill="none" stroke="#000" stroke-width="1.95"/>
<rect x="454.60" y="509.90" width="6.8" height="6.8" fill="none" stroke="#000" stroke-width="1.95"/>
<rect x="389.95" y="582.85" width="8.5" height="8.5" fill="#000"/>
<rect x="389.95" y="603.65" width="8.5" height="8.5" fill="#000"/>
<rect x="382.65" y="618.85" width="8.5" height="8.5" fill="#000"/>
<rect x="382.65" y="644.45" width="8.5" height="8.5" fill="#000"/>
<rect x="398.25" y="648.85" width="8.5" height="8.5" fill="#000"/>
<rect x="477.00" y="508.75" width="8.5" height="8.5" fill="#000"/>
<rect x="489.00" y="505.00" width="8.5" height="8.5" fill="#000"/>
<rect x="477.00" y="542.75" width="8.5" height="8.5" fill="#000"/>
<rect x="488.25" y="548.25" width="8.5" height="8.5" fill="#000"/>
<rect x="472.00" y="581.50" width="8.5" height="8.5" fill="#000"/>
<rect x="483.25" y="584.50" width="8.5" height="8.5" fill="#000"/>
<rect x="492.50" y="577.75" width="8.5" height="8.5" fill="#000"/>
<rect x="483.25" y="603.75" width="8.5" height="8.5" fill="#000"/>
<line x1="361.30" y1="525.00" x2="361.30" y2="594.30" stroke="#000" stroke-width="1.6"/>
<line x1="358.40" y1="525.00" x2="364.20" y2="525.00" stroke="#000" stroke-width="1.5"/>
<line x1="358.40" y1="594.30" x2="364.20" y2="594.30" stroke="#000" stroke-width="1.5"/>
<line x1="349.50" y1="559.50" x2="373.70" y2="559.50" stroke="#000" stroke-width="1.8"/>
<line x1="394.30" y1="594.80" x2="394.30" y2="650.60" stroke="#000" stroke-width="1.6"/>
<line x1="391.40" y1="594.80" x2="397.20" y2="594.80" stroke="#000" stroke-width="1.5"/>
<line x1="391.40" y1="650.60" x2="397.20" y2="650.60" stroke="#000" stroke-width="1.5"/>
<line x1="382.70" y1="623.10" x2="406.00" y2="623.10" stroke="#000" stroke-width="1.8"/>
<line x1="447.90" y1="502.30" x2="447.90" y2="516.60" stroke="#000" stroke-width="1.6"/>
<line x1="445.65" y1="502.30" x2="450.15" y2="502.30" stroke="#000" stroke-width="1.5"/>
<line x1="445.65" y1="516.60" x2="450.15" y2="516.60" stroke="#000" stroke-width="1.5"/>
<line x1="436.00" y1="509.60" x2="461.00" y2="509.60" stroke="#000" stroke-width="1.8"/>
<line x1="488.00" y1="527.50" x2="488.00" y2="597.00" stroke="#000" stroke-width="1.6"/>
<line x1="485.10" y1="527.50" x2="490.90" y2="527.50" stroke="#000" stroke-width="1.5"/>
<line x1="485.10" y1="597.00" x2="490.90" y2="597.00" stroke="#000" stroke-width="1.5"/>
<line x1="475.50" y1="563.00" x2="499.60" y2="563.00" stroke="#000" stroke-width="1.8"/>
<line x1="340.00" y1="721.30" x2="340.00" y2="910.25" stroke="#000" stroke-width="2.1"/>
<line x1="336.50" y1="722.00" x2="343.20" y2="722.00" stroke="#000" stroke-width="1.8"/>
<text x="331.70" y="727.90" font-size="12.8" text-anchor="end" >30</text>
<line x1="336.50" y1="753.20" x2="343.20" y2="753.20" stroke="#000" stroke-width="1.8"/>
<text x="331.70" y="758.00" font-size="12.8" text-anchor="end" >25</text>
<line x1="336.50" y1="784.40" x2="343.20" y2="784.40" stroke="#000" stroke-width="1.8"/>
<text x="331.70" y="790.60" font-size="12.8" text-anchor="end" >20</text>
<line x1="336.50" y1="815.60" x2="343.20" y2="815.60" stroke="#000" stroke-width="1.8"/>
<text x="331.70" y="822.00" font-size="12.8" text-anchor="end" >15</text>
<line x1="336.50" y1="846.80" x2="343.20" y2="846.80" stroke="#000" stroke-width="1.8"/>
<text x="331.70" y="853.70" font-size="12.8" text-anchor="end" >10</text>
<line x1="336.50" y1="878.00" x2="343.20" y2="878.00" stroke="#000" stroke-width="1.8"/>
<text x="331.70" y="884.70" font-size="12.8" text-anchor="end" >5</text>
<line x1="336.50" y1="909.20" x2="343.20" y2="909.20" stroke="#000" stroke-width="1.8"/>
<text x="331.70" y="916.50" font-size="12.8" text-anchor="end" >0</text>
<line x1="338.95" y1="909.20" x2="511.80" y2="909.20" stroke="#000" stroke-width="2.1"/>
<text transform="translate(306.90,803.00) rotate(-90)" font-size="13.7" text-anchor="middle">Retic (%)</text>
<text x="360.60" y="928.20" font-size="12.8" text-anchor="middle" >8.3</text>
<text x="394.20" y="928.20" font-size="12.8" text-anchor="middle" >10.4</text>
<text x="454.00" y="928.20" font-size="12.8" text-anchor="middle" >32.9</text>
<text x="488.50" y="928.20" font-size="12.8" text-anchor="middle" >42.6</text>
<line x1="350.20" y1="931.20" x2="408.00" y2="931.20" stroke="#000" stroke-width="1.9"/>
<line x1="441.30" y1="931.20" x2="501.60" y2="931.20" stroke="#000" stroke-width="1.9"/>
<text x="383.00" y="947.60" font-size="13" text-anchor="middle" >&lt;20%</text>
<text x="471.00" y="947.60" font-size="13" text-anchor="middle" >&gt;20%</text>
<rect x="358.60" y="803.10" width="6.8" height="6.8" fill="none" stroke="#000" stroke-width="1.95"/>
<rect x="358.60" y="815.60" width="6.8" height="6.8" fill="none" stroke="#000" stroke-width="1.95"/>
<rect x="352.35" y="845.60" width="6.8" height="6.8" fill="none" stroke="#000" stroke-width="1.95"/>
<rect x="360.85" y="853.85" width="6.8" height="6.8" fill="none" stroke="#000" stroke-width="1.95"/>
<rect x="349.10" y="857.60" width="6.8" height="6.8" fill="none" stroke="#000" stroke-width="1.95"/>
<rect x="357.35" y="865.60" width="6.8" height="6.8" fill="none" stroke="#000" stroke-width="1.95"/>
<rect x="365.35" y="863.85" width="6.8" height="6.8" fill="none" stroke="#000" stroke-width="1.95"/>
<rect x="348.60" y="866.85" width="6.8" height="6.8" fill="none" stroke="#000" stroke-width="1.95"/>
<rect x="358.60" y="879.85" width="6.8" height="6.8" fill="none" stroke="#000" stroke-width="1.95"/>
<rect x="434.70" y="876.00" width="6.8" height="6.8" fill="none" stroke="#000" stroke-width="1.95"/>
<rect x="442.40" y="883.30" width="6.8" height="6.8" fill="none" stroke="#000" stroke-width="1.95"/>
<rect x="454.30" y="877.80" width="6.8" height="6.8" fill="none" stroke="#000" stroke-width="1.95"/>
<rect x="383.25" y="734.55" width="8.5" height="8.5" fill="#000"/>
<rect x="398.25" y="743.45" width="8.5" height="8.5" fill="#000"/>
<rect x="383.85" y="767.85" width="8.5" height="8.5" fill="#000"/>
<rect x="390.55" y="795.15" width="8.5" height="8.5" fill="#000"/>
<rect x="390.55" y="827.45" width="8.5" height="8.5" fill="#000"/>
<rect x="484.50" y="746.75" width="8.5" height="8.5" fill="#000"/>
<rect x="484.50" y="759.75" width="8.5" height="8.5" fill="#000"/>
<rect x="475.25" y="801.50" width="8.5" height="8.5" fill="#000"/>
<rect x="490.25" y="806.75" width="8.5" height="8.5" fill="#000"/>
<rect x="487.00" y="831.50" width="8.5" height="8.5" fill="#000"/>
<rect x="481.25" y="844.25" width="8.5" height="8.5" fill="#000"/>
<rect x="477.00" y="853.00" width="8.5" height="8.5" fill="#000"/>
<rect x="492.00" y="861.50" width="8.5" height="8.5" fill="#000"/>
<rect x="484.50" y="874.75" width="8.5" height="8.5" fill="#000"/>
<line x1="361.30" y1="827.30" x2="361.30" y2="876.00" stroke="#000" stroke-width="1.6"/>
<line x1="358.40" y1="827.30" x2="364.20" y2="827.30" stroke="#000" stroke-width="1.5"/>
<line x1="358.40" y1="876.00" x2="364.20" y2="876.00" stroke="#000" stroke-width="1.5"/>
<line x1="349.30" y1="852.00" x2="373.70" y2="852.00" stroke="#000" stroke-width="1.8"/>
<line x1="394.30" y1="738.40" x2="394.30" y2="813.50" stroke="#000" stroke-width="1.6"/>
<line x1="391.40" y1="738.40" x2="397.20" y2="738.40" stroke="#000" stroke-width="1.5"/>
<line x1="391.40" y1="813.50" x2="397.20" y2="813.50" stroke="#000" stroke-width="1.5"/>
<line x1="382.70" y1="776.00" x2="407.60" y2="776.00" stroke="#000" stroke-width="1.8"/>
<line x1="448.00" y1="877.90" x2="448.00" y2="884.80" stroke="#000" stroke-width="1.6"/>
<line x1="445.75" y1="877.90" x2="450.25" y2="877.90" stroke="#000" stroke-width="1.5"/>
<line x1="445.75" y1="884.80" x2="450.25" y2="884.80" stroke="#000" stroke-width="1.5"/>
<line x1="441.00" y1="881.30" x2="455.00" y2="881.30" stroke="#000" stroke-width="1.8"/>
<line x1="488.00" y1="778.30" x2="488.00" y2="868.30" stroke="#000" stroke-width="1.6"/>
<line x1="485.10" y1="778.30" x2="490.90" y2="778.30" stroke="#000" stroke-width="1.5"/>
<line x1="485.10" y1="868.30" x2="490.90" y2="868.30" stroke="#000" stroke-width="1.5"/>
<line x1="475.50" y1="823.30" x2="499.60" y2="823.30" stroke="#000" stroke-width="1.8"/>
<text x="6.0" y="19.7" font-size="24">A</text>
<text x="287.5" y="20.6" font-size="24">B</text>
</svg>
</body></html>
